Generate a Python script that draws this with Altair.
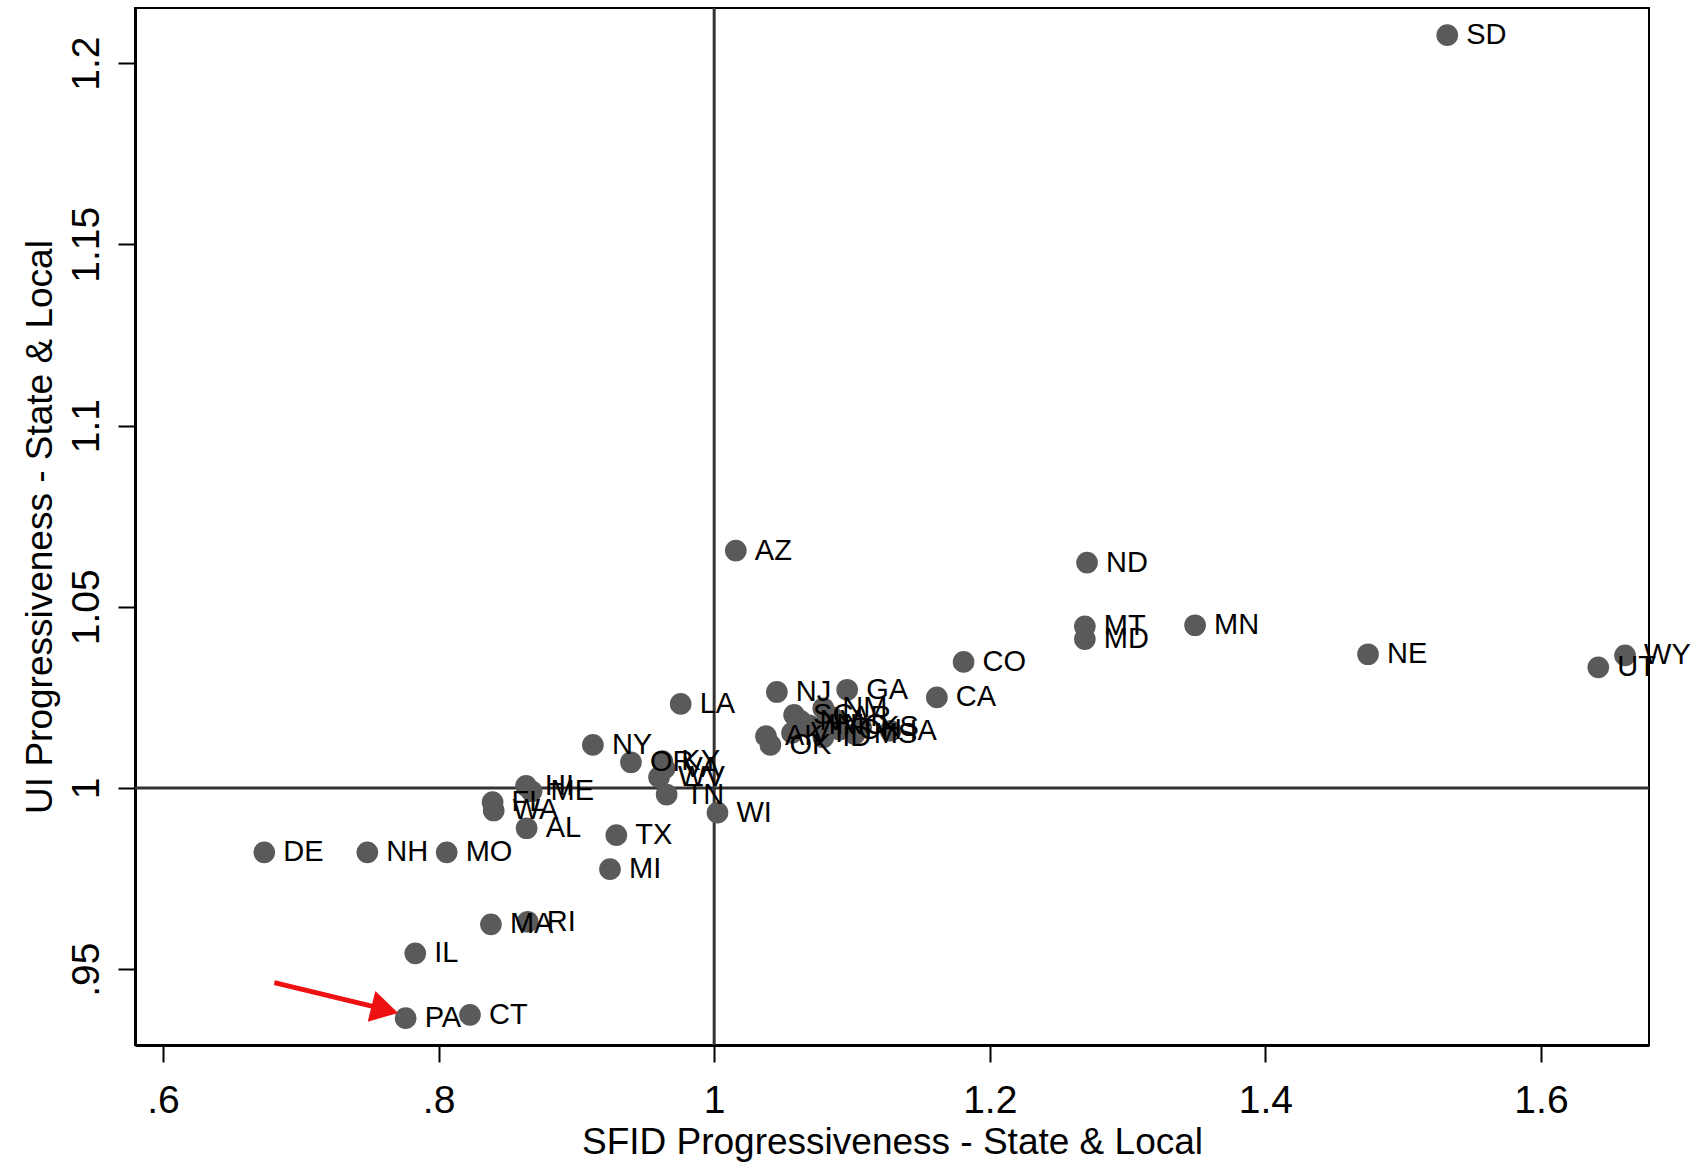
import altair as alt
import pandas as pd

# ---- data ----
states = ["SD", "AZ", "ND", "MT", "MD", "MN", "NE", "WY", "UT", "CO", "CA", "IA",
          "NJ", "GA", "LA", "NY", "OR", "KY", "VA", "WV", "TN", "WI",
          "HI", "ME", "FL", "WA", "AL", "TX", "MI", "DE", "NH", "MO",
          "MA", "RI", "IL", "PA", "CT",
          "SC", "NM", "AR", "NV", "VT", "IN", "NC", "ID", "OH", "MS", "KS", "AK", "OK"]
sfid = [1.532, 1.0157, 1.2706, 1.269, 1.269, 1.349, 1.4745, 1.661, 1.6416, 1.181, 1.1616, 1.128,
        1.0455, 1.0965, 0.9757, 0.912, 0.9396, 0.9624, 0.964, 0.960, 0.9655, 1.0024,
        0.8635, 0.8675, 0.8392, 0.840, 0.8639, 0.929, 0.9244, 0.6735, 0.7483, 0.8059,
        0.838, 0.8647, 0.7831, 0.7761, 0.8228,
        1.058, 1.0792, 1.0855, 1.0627, 1.0565, 1.069, 1.080, 1.0792, 1.091, 1.102, 1.1067, 1.0376, 1.0408]
ui = [1.2077, 1.0655, 1.0622, 1.0446, 1.0411, 1.0449, 1.0369, 1.0366, 1.0333, 1.0348, 1.025, 1.0158,
      1.0265, 1.0271, 1.0232, 1.0119, 1.0071, 1.0074, 1.0054, 1.003, 0.9982, 0.9932,
      1.0006, 0.9991, 0.9961, 0.9938, 0.9889, 0.987, 0.9776, 0.98226, 0.98226, 0.98226,
      0.9624, 0.9631, 0.9544, 0.9365, 0.9374,
      1.0202, 1.022, 1.0196, 1.0185, 1.0152, 1.0173, 1.0173, 1.014, 1.0161, 1.0149, 1.0167, 1.0143, 1.0119]

x_ticks = [0.6, 0.8, 1.0, 1.2, 1.4, 1.6]
y_ticks = [0.95, 1.0, 1.05, 1.1, 1.15, 1.2]
x_domain = [0.5797, 1.6784]
y_domain = [0.9291, 1.2152]

ref_x = [1.0]
ref_y = [1.0]

# red arrow (data space): shaft start/end, head centre
arrow_shaft_x = [0.6808, 0.7530]
arrow_shaft_y = [0.9463, 0.9397]
arrow_head_x = [0.7610]
arrow_head_y = [0.93885]

x_title = "SFID Progressiveness - State & Local"
y_title = "UI Progressiveness - State & Local"

FONT = "Liberation Sans Narrow, Arial Narrow, Liberation Sans, Arial, sans-serif"

df = pd.DataFrame({"state": states, "sfid": sfid, "ui": ui})

xs = alt.Scale(domain=x_domain, nice=False, zero=False)
ys = alt.Scale(domain=y_domain, nice=False, zero=False)

label_expr = "datum.value < 1 ? replace(toString(datum.value), '0.', '.') : toString(datum.value)"

x_axis = alt.Axis(values=x_ticks, title=x_title, labelExpr=label_expr,
                  labelBaseline="top", labelPadding=19,
                  titleY=108, titleBaseline="alphabetic")
y_axis = alt.Axis(values=y_ticks, title=y_title, labelExpr=label_expr,
                  labelAngle=-90, labelAlign="center", labelBaseline="alphabetic",
                  labelPadding=20, titleX=-84, titleBaseline="alphabetic", titleAngle=-90)

X = alt.X("sfid:Q", scale=xs, axis=x_axis)
Y = alt.Y("ui:Q", scale=ys, axis=y_axis)

vrule = alt.Chart(pd.DataFrame({"sfid": ref_x})).mark_rule(
    color="#333333", strokeWidth=3).encode(x=X)
hrule = alt.Chart(pd.DataFrame({"ui": ref_y})).mark_rule(
    color="#333333", strokeWidth=3).encode(y=Y)

points = alt.Chart(df).mark_circle(size=470, color="#5a5a5a", opacity=1).encode(x=X, y=Y)
labels = alt.Chart(df).mark_text(align="left", baseline="middle", dx=19, fontSize=29,
                                 font=FONT, color="black").encode(x=X, y=Y, text="state:N")

shaft = alt.Chart(pd.DataFrame({"sfid": arrow_shaft_x, "ui": arrow_shaft_y})).mark_line(
    color="#ee1111", strokeWidth=5).encode(x=X, y=Y)
head = alt.Chart(pd.DataFrame({"sfid": arrow_head_x, "ui": arrow_head_y})).mark_point(
    shape="triangle-right", filled=True, size=1000, angle=14, color="#ee1111",
    opacity=1).encode(x=X, y=Y)

chart = alt.layer(vrule, hrule, points, labels, shaft, head).properties(
    width=1514, height=1037,
    autosize=alt.AutoSizeParams(type="none"),
    padding={"left": 135, "top": 8, "right": 44, "bottom": 122},
    background="white",
).configure_axis(
    labelFont=FONT, titleFont=FONT, labelFontSize=39, titleFontSize=37,
    labelColor="black", titleColor="black", titleFontWeight="normal",
    grid=False, domainColor="black", domainWidth=3, tickColor="black",
    tickSize=17, tickWidth=2,
).configure_view(stroke="black", strokeWidth=2)

chart.save("out.html", embed_options={"renderer": "svg", "actions": False})
